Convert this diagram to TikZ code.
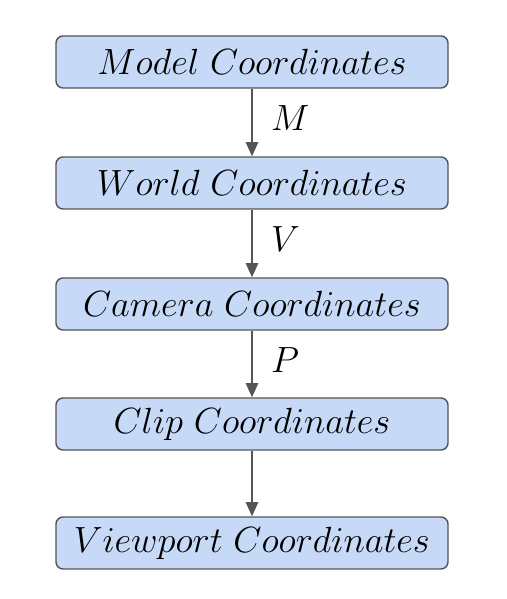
\documentclass[tikz,border=0pt]{standalone}
\usepackage{amsmath}
\usepackage{amssymb}
\usepackage{tikz}
\usetikzlibrary{arrows.meta}

\definecolor{boxfill}{HTML}{C6D9F6}
\definecolor{boxline}{HTML}{555555}

\tikzset{
    coordbox/.style={draw=boxline, fill=boxfill, line width=0.8pt, rounded corners=4pt,
        minimum width=7.84cm, minimum height=1.04cm, inner sep=0pt,
        font=\fontsize{20.3}{24}\selectfont},
    maparrow/.style={draw=boxline, line width=1pt, -{Triangle[length=8pt,width=7pt]}},
    maplabel/.style={right, font=\fontsize{20.3}{24}\selectfont, xshift=7pt, yshift=2.3pt}
}

\begin{document}
\begin{tikzpicture}
            \useasboundingbox (-5.04, -10.74) rectangle (5.08, 1.24);

            \node[coordbox] (model) at (0, 0) {$Model\ Coordinates$};
            \node[coordbox] (world) at (0, -2.42cm) {$World\ Coordinates$};
            \node[coordbox] (camera) at (0, -4.84cm) {$Camera\ Coordinates$};
            \node[coordbox] (clip) at (0, -7.24cm) {$Clip\ Coordinates$};
            \node[coordbox] (viewport) at (0, -9.62cm) {$Viewport\ Coordinates$};

            \draw[maparrow] (model) to node[maplabel] (lm) {$M$} (world);
            \draw[maparrow] (world) to node[maplabel] (lv) {$V$} (camera);
            \draw[maparrow] (camera) to node[maplabel] (lp) {$P$} (clip);
            \draw[maparrow] (clip) to (viewport);
        \end{tikzpicture}
\end{document}
